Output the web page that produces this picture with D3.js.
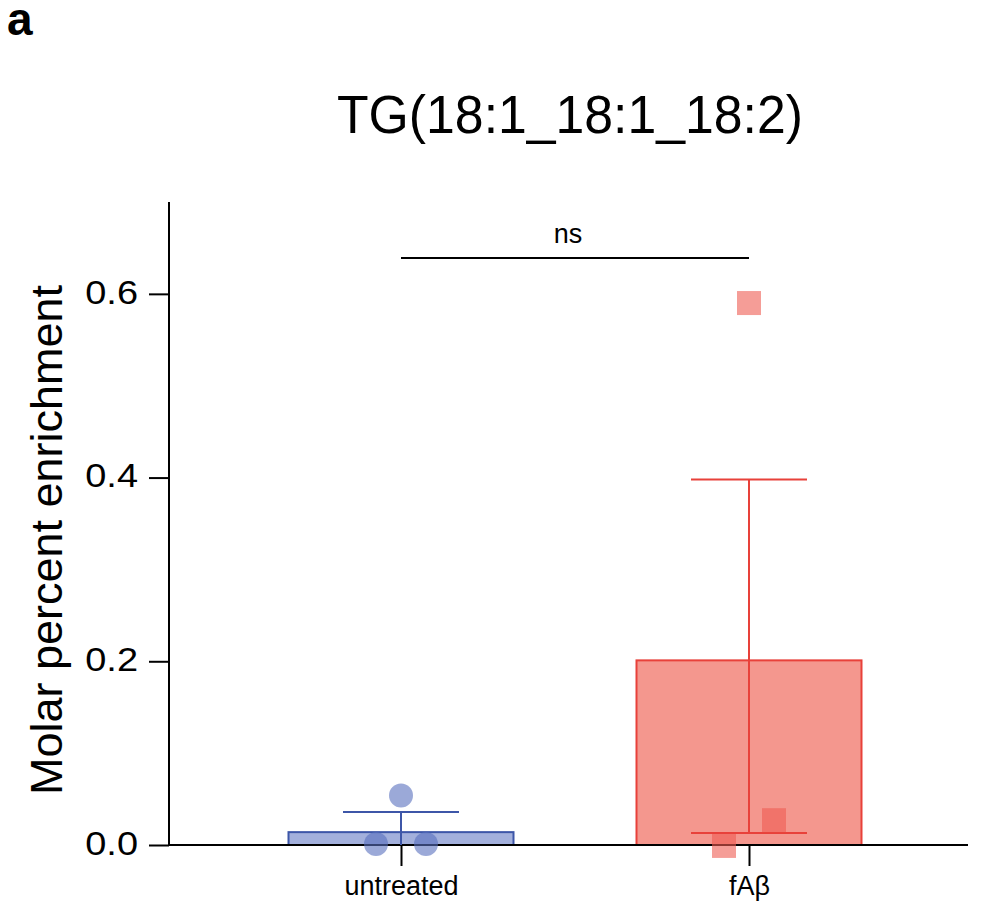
<!DOCTYPE html>
<html>
<head>
<meta charset="utf-8">
<script src="https://cdn.jsdelivr.net/npm/d3@7"></script>
<style>
  html, body { margin: 0; padding: 0; background: #fff; }
  svg { display: block; font-family: "Liberation Sans", Arial, Helvetica, sans-serif; }
</style>
</head>
<body>
<svg id="chart" width="988" height="911"></svg>
<script>
// ---- data ----
const categories = ["untreated", "fAβ"];
const barMeans = [0.014, 0.201];
const errUpper = [0.036, 0.398];
const errLower = [-0.008, 0.013];
const pointsUntreated = [0.054, 0.001, 0.001];
const pointsFAb = [0.590, 0.027, -0.001];
const jitterUntreated = [0, -1, 1];
const jitterFAb = [0, 1, -1];
const yTicks = [0.0, 0.2, 0.4, 0.6];
const title = "TG(18:1_18:1_18:2)";
const yLabel = "Molar percent enrichment";
const sigLabel = "ns";

// ---- styles ----
const blueFill = "#a3b0dc", blueStroke = "#3d56a8", bluePt = "rgba(88,112,190,0.6)";
const redFill = "#f4978e", redStroke = "#e8413a", redPt = "rgba(238,92,82,0.6)";

const svg = d3.select("#chart");
const y = d3.scaleLinear().domain([0, 0.7]).range([845, 202]);
const x = d3.scalePoint().domain(categories).range([401, 749]);
const barW = 225, capW = 116, ptR = 12, sq = 24, jit = 25;

// panel letter
svg.append("text").attr("x", 7).attr("y", 35).attr("font-size", 46).attr("font-weight", "bold").text("a");

// title
svg.append("text").attr("x", 570).attr("y", 133).attr("text-anchor", "middle")
  .attr("font-size", 54).attr("textLength", 466).attr("lengthAdjust", "spacingAndGlyphs").text(title);

// y label
svg.append("text").attr("transform", "translate(62,540) rotate(-90)")
  .attr("text-anchor", "middle").attr("font-size", 45).text(yLabel);

// bars
const colors = [[blueFill, blueStroke], [redFill, redStroke]];
categories.forEach((c, i) => {
  svg.append("rect")
    .attr("x", x(c) - barW / 2).attr("width", barW)
    .attr("y", y(barMeans[i])).attr("height", y(0) - y(barMeans[i]))
    .attr("fill", colors[i][0]).attr("stroke", colors[i][1]).attr("stroke-width", 2);
});

// axes
const yAxis = d3.axisLeft(y).tickValues(yTicks).tickFormat(d3.format(".1f")).tickSize(20).tickPadding(11);
const gy = svg.append("g").attr("transform", "translate(169,0)").call(yAxis);
gy.select(".domain").attr("stroke-width", 2).attr("d", `M0,${y(0.7)}V${y(0)}`);
gy.selectAll(".tick line").attr("stroke-width", 2);
gy.selectAll(".tick text").attr("font-size", 33).attr("font-family", "Liberation Sans, Arial, sans-serif")
  .attr("fill", "#000").attr("text-anchor", "end").attr("dy", "0.28em")
  .attr("transform", "translate(-31,0) scale(1.15,1) translate(31,0)");

const xAxis = d3.axisBottom(x).tickSize(21).tickPadding(10);
const gx = svg.append("g").attr("transform", `translate(0,${y(0)})`).call(xAxis);
gx.select(".domain").attr("stroke-width", 2).attr("d", "M169,0H968");
gx.selectAll(".tick line").attr("stroke-width", 2);
gx.selectAll(".tick text").attr("font-size", 27).attr("font-family", "Liberation Sans, Arial, sans-serif").attr("fill", "#000");

// error bars
categories.forEach((c, i) => {
  const col = colors[i][1];
  const lo = Math.max(errLower[i], 0);
  svg.append("line").attr("x1", x(c)).attr("x2", x(c))
    .attr("y1", y(errUpper[i])).attr("y2", y(lo)).attr("stroke", col).attr("stroke-width", 2);
  svg.append("line").attr("x1", x(c) - capW / 2).attr("x2", x(c) + capW / 2)
    .attr("y1", y(errUpper[i])).attr("y2", y(errUpper[i])).attr("stroke", col).attr("stroke-width", 2);
  if (errLower[i] >= 0) {
    svg.append("line").attr("x1", x(c) - capW / 2).attr("x2", x(c) + capW / 2)
      .attr("y1", y(errLower[i])).attr("y2", y(errLower[i])).attr("stroke", col).attr("stroke-width", 2);
  }
});

// points
pointsUntreated.forEach((v, k) => {
  svg.append("circle").attr("cx", x(categories[0]) + jitterUntreated[k] * jit).attr("cy", y(v))
    .attr("r", ptR).attr("fill", bluePt);
});
pointsFAb.forEach((v, k) => {
  svg.append("rect").attr("x", x(categories[1]) + jitterFAb[k] * jit - sq / 2).attr("y", y(v) - sq / 2)
    .attr("width", sq).attr("height", sq).attr("fill", redPt);
});

// significance bracket
svg.append("line").attr("x1", x(categories[0])).attr("x2", x(categories[1]))
  .attr("y1", 258).attr("y2", 258).attr("stroke", "#000").attr("stroke-width", 2);
svg.append("text").attr("x", (x(categories[0]) + x(categories[1])) / 2 - 7).attr("y", 243)
  .attr("text-anchor", "middle").attr("font-size", 27).text(sigLabel);
</script>
</body>
</html>
